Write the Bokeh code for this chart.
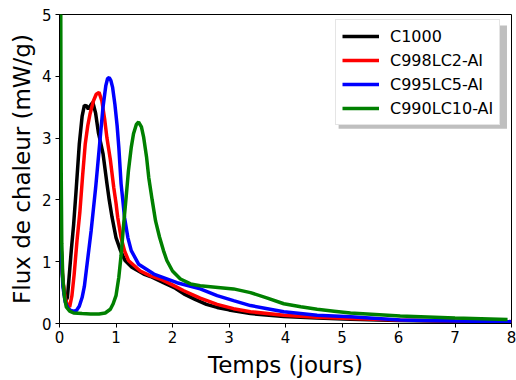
from bokeh.plotting import figure
from bokeh.models import Legend, LegendItem, FixedTicker, BoxAnnotation, Range1d
from bokeh.embed import file_html
from bokeh.resources import INLINE

# ---- data ----
c1000_x = [0.025, 0.05, 0.08, 0.11, 0.14, 0.17, 0.21, 0.25, 0.29, 0.35, 0.40, 0.44, 0.48, 0.51,
           0.55, 0.59, 0.64, 0.69, 0.73, 0.77, 0.84, 0.88, 0.93, 1.0, 1.08, 1.16, 1.28, 1.49,
           1.61, 1.84, 2.05, 2.20, 2.40, 2.60, 2.79, 3.00, 3.38, 3.97, 4.56, 5.15, 6.0, 7.0, 8.0]
c1000_y = [1.3, 0.8, 0.5, 0.36, 0.42, 0.75, 1.2, 1.6, 2.1, 2.9, 3.35, 3.53, 3.52, 3.47,
           3.53, 3.58, 3.4, 3.08, 2.92, 2.75, 2.26, 2.0, 1.72, 1.39, 1.18, 1.02, 0.91, 0.80,
           0.76, 0.66, 0.57, 0.48, 0.39, 0.31, 0.26, 0.22, 0.16, 0.115, 0.09, 0.07, 0.05, 0.035, 0.025]

c998_x = [0.025, 0.06, 0.1, 0.14, 0.18, 0.22, 0.26, 0.31, 0.36, 0.41, 0.455, 0.50, 0.54, 0.6,
          0.65, 0.70, 0.75, 0.80, 0.84, 0.90, 0.96, 1.0, 1.03, 1.09, 1.15, 1.22, 1.43, 1.61,
          1.78, 1.90, 2.05, 2.20, 2.49, 2.79, 3.08, 3.38, 3.97, 4.56, 5.15, 6.0, 7.0, 8.0]
c998_y = [1.3, 0.7, 0.42, 0.3, 0.27, 0.45, 0.8, 1.34, 1.8, 2.4, 2.9, 3.2, 3.39, 3.6,
          3.71, 3.74, 3.6, 3.3, 3.0, 2.65, 2.2, 1.95, 1.72, 1.39, 1.18, 1.02, 0.85, 0.77,
          0.72, 0.67, 0.60, 0.53, 0.41, 0.31, 0.24, 0.19, 0.135, 0.10, 0.08, 0.055, 0.04, 0.03]

c995_x = [0.025, 0.06, 0.1, 0.15, 0.2, 0.25, 0.30, 0.35, 0.40, 0.44, 0.48, 0.52, 0.56, 0.60,
          0.64, 0.68, 0.72, 0.77, 0.82, 0.85, 0.88, 0.91, 0.94, 0.98, 1.02, 1.05, 1.09, 1.12, 1.15,
          1.21, 1.27, 1.40, 1.67, 2.08, 2.49, 2.79, 3.08, 3.38, 3.68, 3.97, 4.56, 5.15, 6.03, 7.0, 8.0]
c995_y = [1.3, 0.6, 0.35, 0.25, 0.21, 0.2, 0.21, 0.28, 0.42, 0.6, 0.9, 1.2, 1.5, 1.85,
          2.2, 2.6, 3.0, 3.5, 3.85, 3.96, 3.98, 3.93, 3.82, 3.55, 3.2, 2.85, 2.26, 2.0, 1.72,
          1.39, 1.18, 0.96, 0.80, 0.66, 0.56, 0.45, 0.37, 0.29, 0.24, 0.19, 0.135, 0.11, 0.055, 0.04, 0.03]

c990_x = [0.02, 0.025, 0.03, 0.04, 0.06, 0.09, 0.12, 0.18, 0.25, 0.4, 0.55, 0.7, 0.81, 0.9,
          0.95, 1.0, 1.05, 1.09, 1.13, 1.18, 1.22, 1.27, 1.31, 1.36, 1.40, 1.45, 1.49, 1.54,
          1.58, 1.64, 1.70, 1.77, 1.84, 1.90, 2.0, 2.14, 2.32, 2.49, 2.85, 3.08, 3.38, 3.68,
          3.97, 4.27, 4.56, 4.86, 5.15, 6.03, 7.0, 7.93]
c990_y = [6.0, 4.0, 2.5, 1.3, 0.7, 0.42, 0.27, 0.2, 0.17, 0.16, 0.155, 0.155, 0.17, 0.23,
          0.32, 0.45, 0.75, 1.1, 1.55, 2.05, 2.47, 2.85, 3.07, 3.22, 3.26, 3.18, 3.01, 2.7,
          2.36, 2.0, 1.66, 1.4, 1.18, 1.02, 0.85, 0.72, 0.64, 0.61, 0.58, 0.56, 0.50, 0.41,
          0.32, 0.27, 0.23, 0.20, 0.17, 0.12, 0.09, 0.065]

series_names = ["C1000", "C998LC2-AI", "C995LC5-AI", "C990LC10-AI"]
series_colors = ["black", "red", "blue", "green"]
x_ticks = [0, 1, 2, 3, 4, 5, 6, 7, 8]
y_ticks = [0, 1, 2, 3, 4, 5]

FONT = "DejaVu Sans"

p = figure(width=516, height=380, output_backend="svg", toolbar_location=None,
           x_range=Range1d(0, 8), y_range=Range1d(0, 5),
           min_border_left=59, min_border_right=5, min_border_top=14, min_border_bottom=57)
p.xgrid.visible = False
p.ygrid.visible = False
p.outline_line_color = "black"
p.outline_line_width = 1
p.background_fill_color = "white"
p.border_fill_color = "white"

for ax in (p.xaxis[0], p.yaxis[0]):
    ax.major_tick_in = 0
    ax.major_tick_out = 4
    ax.minor_tick_line_color = None
    ax.axis_line_color = "black"
    ax.major_tick_line_color = "black"
    ax.major_label_text_font = FONT
    ax.major_label_text_font_size = "15px"
    ax.major_label_text_color = "black"
    ax.axis_label_text_font = FONT
    ax.axis_label_text_font_size = "23px"
    ax.axis_label_text_font_style = "normal"
    ax.axis_label_text_color = "black"

p.xaxis[0].ticker = FixedTicker(ticks=x_ticks)
p.yaxis[0].ticker = FixedTicker(ticks=y_ticks)
p.xaxis[0].major_label_standoff = 3
p.yaxis[0].major_label_standoff = 4
p.xaxis[0].axis_label = "Temps (jours)"
p.yaxis[0].axis_label = "Flux de chaleur (mW/g)"
p.xaxis[0].axis_label_standoff = 6
p.yaxis[0].axis_label_standoff = 4

xs = [c1000_x, c998_x, c995_x, c990_x]
ys = [c1000_y, c998_y, c995_y, c990_y]
renderers = []
for x, y, c in zip(xs, ys, series_colors):
    r = p.line(x, y, line_color=c, line_width=3.5)
    renderers.append(r)

# legend shadow
shadow = BoxAnnotation(left=4.94, right=7.92, top=4.82, bottom=3.15,
                       fill_color="gray", fill_alpha=0.5, line_color=None)
p.add_layout(shadow)

legend = Legend(items=[LegendItem(label=n, renderers=[r]) for n, r in zip(series_names, renderers)],
                location=(276, 198), margin=0, padding=6, spacing=4,
                glyph_width=37, glyph_height=20, label_height=20, label_standoff=11,
                label_text_font=FONT, label_text_font_size="16px", label_text_color="black",
                label_text_font_style="normal",
                border_line_color="#cccccc", border_line_width=1,
                background_fill_color="white", background_fill_alpha=1.0)
p.add_layout(legend)

open("out.html", "w").write(file_html(p, INLINE))
